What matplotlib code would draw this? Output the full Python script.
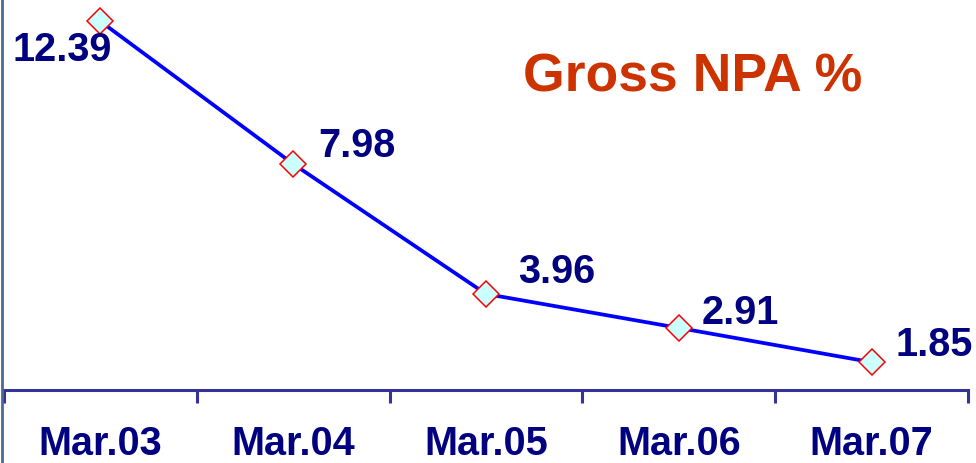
import matplotlib
matplotlib.use("Agg")
import matplotlib.pyplot as plt
from matplotlib.lines import Line2D

categories = ["Mar.03", "Mar.04", "Mar.05", "Mar.06", "Mar.07"]
gross_npa = [12.39, 7.98, 3.96, 2.91, 1.85]
value_labels = ["12.39", "7.98", "3.96", "2.91", "1.85"]
title_text = "Gross NPA %"

# label centre offsets in pixels (layout only)
label_offsets = [(-38, -28), (64, 19), (71, 23), (62, 16), (63, 18)]

plt.rcParams['font.family'] = ['Liberation Sans', 'DejaVu Sans']

fig = plt.figure(figsize=(9.76, 4.64), dpi=100)
ax = fig.add_axes([4 / 976, (464 - 390.7) / 464, 964 / 976, 390.7 / 464])

x = list(range(len(categories)))
ax.plot(x, gross_npa, color="#0000ff", lw=2.7, marker="D", markersize=13.5,
        markerfacecolor="#ccffff", markeredgecolor="#ff0000", markeredgewidth=1.1,
        zorder=3, clip_on=False)

for xi, v, lab, off in zip(x, gross_npa, value_labels, label_offsets):
    ax.annotate(lab, (xi, v), xytext=off, textcoords="offset pixels",
                ha="center", va="center", fontsize=28.5, fontweight="bold",
                color="#000080")

ax.set_xlim(-0.5, len(categories) - 0.5)
ax.set_ylim(1.0, 13.08)

for s in ["top", "right", "left"]:
    ax.spines[s].set_visible(False)
ax.spines["bottom"].set_color("#333399")
ax.spines["bottom"].set_linewidth(2.2)

ax.set_yticks([])
ax.set_xticks([i - 0.5 for i in range(len(categories) + 1)], minor=False)
ax.set_xticklabels([])
ax.tick_params(axis="x", which="major", direction="out", length=9, width=2.2,
               color="#333399")
ax.set_xticks(x, minor=True)
ax.set_xticklabels(categories, minor=True)
ax.tick_params(axis="x", which="minor", length=0, pad=25, labelsize=28.5,
               labelcolor="#000080")
for t in ax.get_xticklabels(minor=True):
    t.set_fontweight("bold")

fig.text(693 / 976, 1 - 77 / 464, title_text, ha="center", va="center",
         fontsize=38.5, fontweight="bold", color="#cc3300")

fig.add_artist(Line2D([2 / 976, 2 / 976], [0, 1], transform=fig.transFigure,
                      color="#4a6a8f", lw=2))

fig.savefig("out.png", dpi=100)
